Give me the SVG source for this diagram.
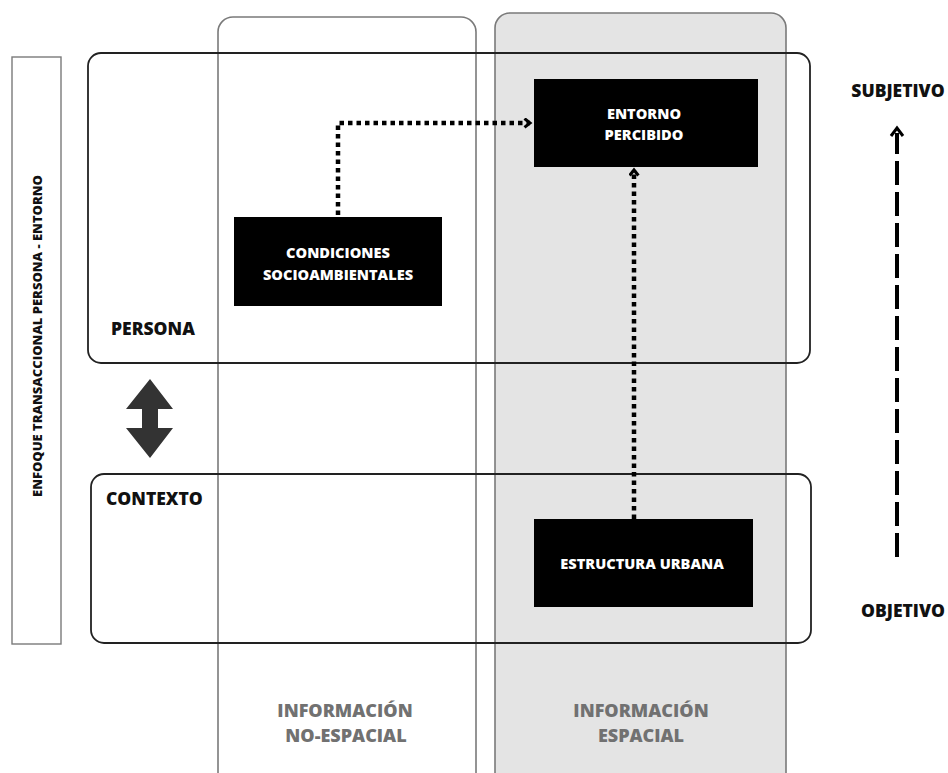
<svg xmlns="http://www.w3.org/2000/svg" width="948" height="773" viewBox="0 0 948 773">
  <style>
    .lbl { font-family: "Open Sans", "Liberation Sans", sans-serif; font-weight: 800; }
    .dark { fill: #111; }
    .muted { fill: #717171; }
    .white { fill: #fff; }
    .col { stroke: #7a7a7a; stroke-width: 1.6; }
    .band { fill: none; stroke: #222; stroke-width: 1.8; }
    .node { fill: #000; }
    .dots { fill: none; stroke: #000; stroke-width: 4.5; stroke-dasharray: 4.5 4; }
  </style>
  <defs>
    <marker id="chev" viewBox="0 0 10 10" refX="7" refY="5" markerWidth="11" markerHeight="11" markerUnits="userSpaceOnUse" orient="auto">
      <path d="M2,1 L7,5 L2,9" fill="none" stroke="#000" stroke-width="2.8"/>
    </marker>
  </defs>
  <rect width="948" height="773" fill="#fff"/>

  <!-- column backgrounds -->
  <g id="col-espacial">
    <rect x="495" y="13" width="291" height="775" rx="15" fill="#e4e4e4" class="col"/>
  </g>
  <g id="col-no-espacial">
    <rect x="218" y="17" width="258" height="771" rx="15" fill="none" class="col"/>
  </g>

  <!-- side label -->
  <g id="side-label">
    <rect x="12" y="57" width="49" height="587" fill="none" stroke="#7a7a7a" stroke-width="1.4"/>
    <text class="lbl dark" x="0" y="0" font-size="13" text-anchor="middle" transform="translate(41.5 336) rotate(-90)">ENFOQUE TRANSACCIONAL PERSONA - ENTORNO</text>
  </g>

  <!-- horizontal bands -->
  <g id="band-persona">
    <rect x="88" y="53" width="722" height="310" rx="13" class="band"/>
    <text class="lbl dark" x="111" y="335" font-size="17.5">PERSONA</text>
  </g>
  <g id="band-contexto">
    <rect x="91" y="474" width="720" height="169" rx="13" class="band"/>
    <text class="lbl dark" x="106" y="505" font-size="17.5">CONTEXTO</text>
  </g>

  <!-- two-way arrow between bands -->
  <g id="double-arrow">
    <path d="M150,379 L173,409 L158,409 L158,428 L173,428 L150,458 L126,428 L142,428 L142,409 L126,409 Z" fill="#333"/>
  </g>

  <!-- nodes -->
  <g id="node-entorno">
    <rect x="534" y="79" width="224" height="88" class="node"/>
    <text class="lbl white" x="644" y="119" font-size="14.6" text-anchor="middle">ENTORNO</text>
    <text class="lbl white" x="644" y="140" font-size="14.6" text-anchor="middle">PERCIBIDO</text>
  </g>
  <g id="node-condiciones">
    <rect x="234" y="217" width="208" height="89" class="node"/>
    <text class="lbl white" x="338" y="258" font-size="14.6" text-anchor="middle">CONDICIONES</text>
    <text class="lbl white" x="338" y="280" font-size="14.6" text-anchor="middle">SOCIOAMBIENTALES</text>
  </g>
  <g id="node-estructura">
    <rect x="534" y="519" width="219" height="88" class="node"/>
    <text class="lbl white" x="642" y="569" font-size="14.6" text-anchor="middle">ESTRUCTURA URBANA</text>
  </g>

  <!-- connectors -->
  <g id="connectors">
    <path d="M338,215 L338,123 L530,123" class="dots" marker-end="url(#chev)"/>
    <path d="M634,519 L634,170" class="dots" marker-end="url(#chev)"/>
  </g>

  <!-- subjective / objective axis -->
  <g id="axis">
    <text class="lbl dark" x="898" y="97" font-size="17.5" text-anchor="middle">SUBJETIVO</text>
    <text class="lbl dark" x="903" y="617" font-size="17.5" text-anchor="middle">OBJETIVO</text>
    <path d="M897,557 L897,133" fill="none" stroke="#000" stroke-width="4" stroke-dasharray="24 7"/>
    <path d="M891,136 L897,128 L903,136" fill="none" stroke="#000" stroke-width="3"/>
  </g>

  <!-- column captions -->
  <g id="captions">
    <text class="lbl muted" x="345" y="717" font-size="18" text-anchor="middle">INFORMACIÓN</text>
    <text class="lbl muted" x="346" y="742" font-size="18" text-anchor="middle">NO-ESPACIAL</text>
    <text class="lbl muted" x="641" y="717" font-size="18" text-anchor="middle">INFORMACIÓN</text>
    <text class="lbl muted" x="641" y="742" font-size="18" text-anchor="middle">ESPACIAL</text>
  </g>
</svg>
